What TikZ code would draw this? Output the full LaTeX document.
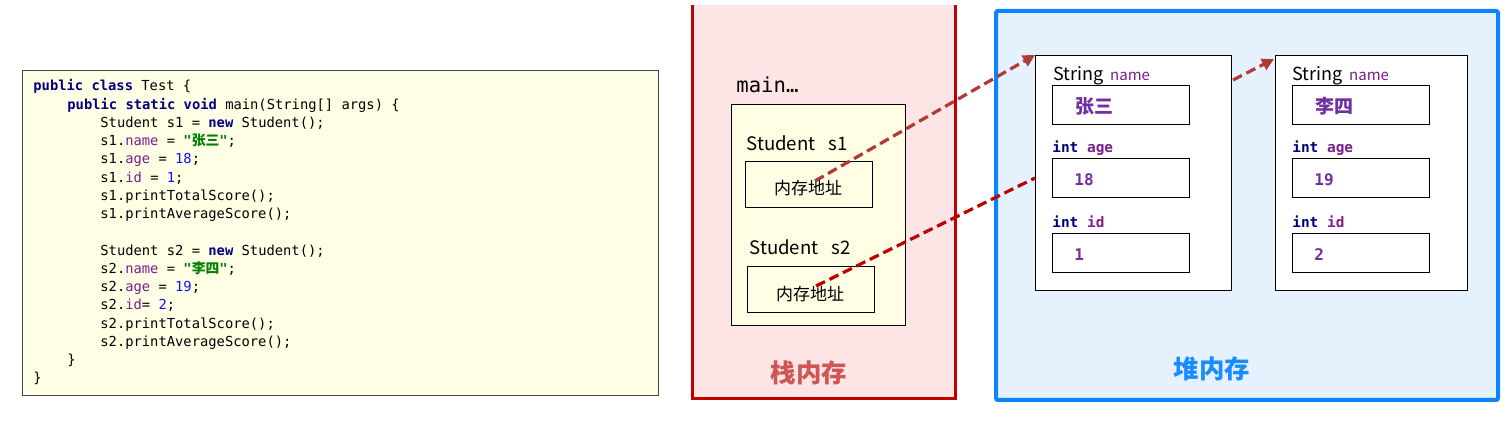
\documentclass[tikz,border=0pt]{standalone}
\usepackage{fontspec}
\usetikzlibrary{arrows.meta}
\newfontfamily\cjk{Noto Sans CJK SC}
\newfontfamily\mono{DejaVu Sans Mono}
\definecolor{codebg}{HTML}{FFFFE6}
\definecolor{codeborder}{HTML}{444444}
\definecolor{kwnavy}{HTML}{000080}
\definecolor{fieldpur}{HTML}{7A1E8C}
\definecolor{numblue}{HTML}{1010FF}
\definecolor{strgreen}{HTML}{008000}
\definecolor{stackfill}{HTML}{FDE4E5}
\definecolor{stackline}{HTML}{C00000}
\definecolor{stacktext}{HTML}{D05555}
\definecolor{mainfill}{HTML}{FFFEE4}
\definecolor{heapfill}{HTML}{E5F1FD}
\definecolor{heapline}{HTML}{0D84FF}
\definecolor{heaptext}{HTML}{1A8CFF}
\definecolor{valpur}{HTML}{7030A0}
\definecolor{arrA}{HTML}{B03A34}
\definecolor{arrB}{HTML}{C00000}
\newcommand{\kw}[1]{{\bfseries\color{kwnavy}#1}}
\newcommand{\fd}[1]{{\color{fieldpur}#1}}
\newcommand{\nm}[1]{{\color{numblue}#1}}
\newcommand{\st}[1]{{\bfseries\color{strgreen}"{\cjk #1}"}}
\tikzset{
  codeline/.style={anchor=base west, inner sep=0pt, font=\mono\fontsize{6.9}{8}\selectfont},
  objbox/.style={draw=black, line width=0.6pt, fill=white, anchor=north west, inner sep=0pt},
  valbox/.style={draw=black, line width=0.6pt, fill=white, anchor=north west, inner sep=0pt, minimum width=68.5pt, minimum height=19.5pt},
  addrbox/.style={draw=black, line width=0.6pt, fill=mainfill, anchor=north west, inner sep=0pt, minimum width=63.5pt, minimum height=23pt},
  addrtext/.style={inner sep=0pt, font=\cjk\fontsize{8.5}{9}\selectfont},
  vartext/.style={anchor=base west, inner sep=0pt, font=\cjk\fontsize{9.3}{10}\selectfont},
  fieldlbl/.style={anchor=base west, inner sep=0pt, font=\mono\bfseries\fontsize{7.2}{8}\selectfont},
  valtext/.style={anchor=base west, inner sep=0pt, text=valpur, font=\mono\bfseries\fontsize{8}{9}\selectfont},
  cjkval/.style={anchor=base west, inner sep=0pt, text=valpur, font=\cjk\bfseries\fontsize{9.5}{10}\selectfont},
  strlbl/.style={anchor=base west, inner sep=0pt},
  refarrow/.style={dashed, dash pattern=on 5pt off 2.5pt, line width=1.6pt, -{Triangle[length=6pt,width=6pt]}},
  refline/.style={dashed, dash pattern=on 5pt off 2.5pt, line width=1.6pt},
}
\begin{document}
\begin{tikzpicture}[x=0.5pt, y=-0.5pt]
\useasboundingbox (0,0) rectangle (1511,427);
\fill[white] (0,0) rectangle (1511,427);

% ---------- code box ----------
\node[draw=codeborder, line width=0.7pt, fill=codebg, anchor=north west, inner sep=0pt,
      minimum width=318pt, minimum height=162.5pt] (code) at (22,70) {};
\node[codeline] (c1)  at (33,91)     {\kw{public class} Test \{};
\node[codeline] (c2)  at (67,109.25) {\kw{public static void} main(String[] args) \{};
\node[codeline] (c3)  at (100,127.5) {Student s1 = \kw{new} Student();};
\node[codeline] (c4)  at (100,145.75){s1.\fd{name} = \st{张三};};
\node[codeline] (c5)  at (100,164)   {s1.\fd{age} = \nm{18};};
\node[codeline] (c6)  at (100,182.25){s1.\fd{id} = \nm{1};};
\node[codeline] (c7)  at (100,200.5) {s1.printTotalScore();};
\node[codeline] (c8)  at (100,218.75){s1.printAverageScore();};
\node[codeline] (c10) at (100,255.25){Student s2 = \kw{new} Student();};
\node[codeline] (c11) at (100,273.5) {s2.\fd{name} = \st{李四};};
\node[codeline] (c12) at (100,291.75){s2.\fd{age} = \nm{19};};
\node[codeline] (c13) at (100,310)   {s2.\fd{id}= \nm{2};};
\node[codeline] (c14) at (100,328.25){s2.printTotalScore();};
\node[codeline] (c15) at (100,346.5) {s2.printAverageScore();};
\node[codeline] (c16) at (67,364.75) {\}};
\node[codeline] (c17) at (33,383)    {\}};

% ---------- stack ----------
\node[fill=stackfill, anchor=north west, inner sep=0pt, minimum width=131.5pt, minimum height=196.5pt] (stack) at (692,5) {};
\draw[stackline, line width=1.5pt] (stack.north west) -- (stack.south west) -- (stack.south east) -- (stack.north east);
\node[anchor=west, inner sep=0pt, font=\mono\fontsize{10.3}{11}\selectfont] (mainlbl) at (736,85) {main…};
\node[draw=black, line width=0.6pt, fill=mainfill, anchor=north west, inner sep=0pt,
      minimum width=87pt, minimum height=110.5pt] (frame) at (731,104) {};
\node[vartext] (v1) at (746,151) {Student\hspace{0.7em}s1};
\node[addrbox] (addr1) at (745,161) {};
\node[addrtext] (t1) at (808,188) {内存地址};
\node[vartext] (v2) at (749,255) {Student\hspace{0.7em}s2};
\node[addrbox] (addr2) at (747,266) {};
\node[addrtext] (t2) at (810,294) {内存地址};
\node[text=stacktext, font=\cjk\bfseries\fontsize{12.7}{13}\selectfont, inner sep=0pt] (stacklbl) at (809,373) {栈内存};

% ---------- heap ----------
\node[draw=heapline, line width=2pt, fill=heapfill, rounded corners=1pt, anchor=north west, inner sep=0pt,
      minimum width=251pt, minimum height=194.5pt] (heap) at (994,9) {};
\node[text=heaptext, font=\cjk\bfseries\fontsize{12.7}{13}\selectfont, inner sep=0pt] (heaplbl) at (1212,369) {堆内存};

% object 1
\node[objbox, minimum width=98pt, minimum height=117.5pt] (obj1) at (1035,55) {};
\node[strlbl] (s1lbl) at (1053,81) {{\cjk\fontsize{9}{10}\selectfont String} {\cjk\fontsize{7.5}{9}\selectfont\color{fieldpur}name}};
\node[valbox] (o1name) at (1052,85) {};
\node[cjkval] (o1namev) at (1075,114) {张三};
\node[fieldlbl] (o1agel) at (1052,153) {{\color{kwnavy}int} {\color{fieldpur}age}};
\node[valbox] (o1age) at (1052,158) {};
\node[valtext] (o1agev) at (1074,185.5) {18};
\node[fieldlbl] (o1idl) at (1052,228) {{\color{kwnavy}int} {\color{fieldpur}id}};
\node[valbox] (o1id) at (1052,233) {};
\node[valtext] (o1idv) at (1074,260.5) {1};

% object 2
\node[objbox, minimum width=96pt, minimum height=117.5pt] (obj2) at (1275,55) {};
\node[strlbl] (s2lbl) at (1292,81) {{\cjk\fontsize{9}{10}\selectfont String} {\cjk\fontsize{7.5}{9}\selectfont\color{fieldpur}name}};
\node[valbox] (o2name) at (1292,85) {};
\node[cjkval] (o2namev) at (1315,114) {李四};
\node[fieldlbl] (o2agel) at (1292,153) {{\color{kwnavy}int} {\color{fieldpur}age}};
\node[valbox] (o2age) at (1292,158) {};
\node[valtext] (o2agev) at (1314,185.5) {19};
\node[fieldlbl] (o2idl) at (1292,228) {{\color{kwnavy}int} {\color{fieldpur}id}};
\node[valbox] (o2id) at (1292,233) {};
\node[valtext] (o2idv) at (1314,260.5) {2};

% ---------- references ----------
\coordinate (p1) at (815,181);
\coordinate (p2) at (816,286);
\coordinate (q2) at (1035,178);
\coordinate (p3) at (1233,80);
\coordinate (q3) at (1274,59);
\draw[refarrow, arrA] (p1) -- (obj1.north west);
\draw[refline, arrB] (p2) -- (q2);
\draw[refarrow, arrA] (p3) -- (q3);
\end{tikzpicture}
\end{document}
